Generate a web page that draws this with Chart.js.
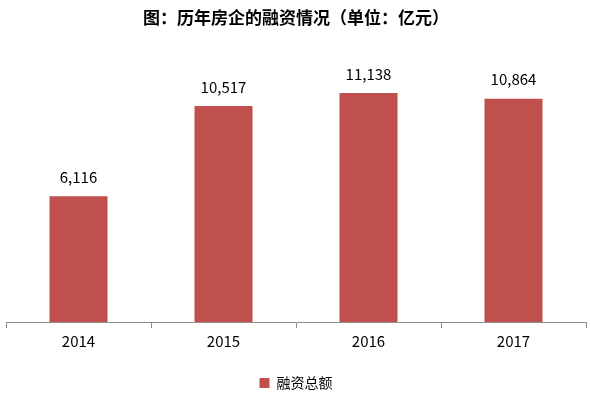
<!DOCTYPE html>
<html>
<head>
<meta charset="utf-8">
<script src="https://cdn.jsdelivr.net/npm/chart.js@4"></script>
<style>
  html, body { margin: 0; padding: 0; background: #fff; }
  #wrap { width: 591px; height: 400px; }
</style>
</head>
<body>
<div id="wrap"><canvas id="financeChart"></canvas></div>
<script>
// 数据
const years = ['2014', '2015', '2016', '2017'];
const totalFinancing = [6116, 10517, 11138, 10864];
const seriesName = '融资总额';
const chartTitle = '图：历年房企的融资情况（单位：亿元）';

const FONT = '"Noto Sans CJK SC", "Noto Sans", sans-serif';

// 柱顶数值标签
const valueLabels = {
    id: 'valueLabels',
    afterDatasetsDraw(chart) {
        const ctx = chart.ctx;
        const meta = chart.getDatasetMeta(0);
        ctx.save();
        ctx.font = '15px ' + FONT;
        ctx.fillStyle = '#000';
        ctx.textAlign = 'center';
        ctx.textBaseline = 'middle';
        meta.data.forEach(function(bar, i) {
            ctx.fillText(totalFinancing[i].toLocaleString('en-US'), bar.x, bar.y - 19);
        });
        ctx.restore();
    }
};

const ctx = document.getElementById('financeChart').getContext('2d');
new Chart(ctx, {
    type: 'bar',
    data: {
        labels: years,
        datasets: [{
            label: seriesName,
            data: totalFinancing,
            backgroundColor: '#C0504D',
            borderWidth: 0,
            categoryPercentage: 1.0,
            barPercentage: 0.4
        }]
    },
    options: {
        responsive: true,
        maintainAspectRatio: false,
        animation: false,
        layout: {
            padding: { left: 6, right: 5, top: 0, bottom: 0 }
        },
        plugins: {
            title: {
                display: true,
                text: chartTitle,
                color: '#000',
                font: { family: FONT, size: 17, weight: 'bold' },
                padding: { top: 7, bottom: 48 }
            },
            legend: {
                position: 'bottom',
                labels: {
                    color: '#000',
                    font: { family: FONT, size: 14 },
                    boxWidth: 10,
                    boxHeight: 10,
                    padding: 7
                }
            },
            tooltip: { enabled: false }
        },
        scales: {
            x: {
                grid: {
                    display: true,
                    offset: true,
                    drawOnChartArea: false,
                    drawTicks: true,
                    tickLength: 6,
                    color: '#8c8c8c'
                },
                border: { display: true, color: '#8c8c8c', width: 1 },
                ticks: {
                    color: '#000',
                    font: { family: FONT, size: 15 },
                    padding: 4
                },
                afterFit: function(scale) {
                    scale.height += 15;
                }
            },
            y: {
                display: false,
                min: 0,
                max: 12000
            }
        }
    },
    plugins: [valueLabels]
});
</script>
</body>
</html>
